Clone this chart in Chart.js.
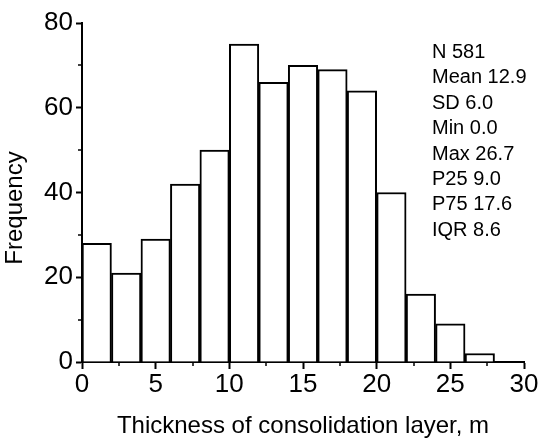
<!DOCTYPE html>
<html>
<head>
<meta charset="utf-8">
<script src="https://cdn.jsdelivr.net/npm/chart.js@4/dist/chart.umd.min.js"></script>
<style>
  html, body { margin: 0; padding: 0; background: #fff; }
  #wrap { width: 539px; height: 441px; position: relative; }
</style>
</head>
<body>
<div id="wrap"><canvas id="histChart"></canvas></div>
<script>
// histogram bins (2 m wide) and counts
const binStarts = [0, 2, 4, 6, 8, 10, 12, 14, 16, 18, 20, 22, 24, 26];
const binWidth = 2;
const counts = [28, 21, 29, 42, 50, 75, 66, 70, 69, 64, 40, 16, 9, 2];
const xMinorTicks = [2.5, 7.5, 12.5, 17.5, 22.5, 27.5];
const yMinorTicks = [10, 30, 50, 70];
const statsLines = ['N 581', 'Mean 12.9', 'SD 6.0', 'Min 0.0', 'Max 26.7', 'P25 9.0', 'P75 17.6', 'IQR 8.6'];
const yTitle = 'Frequency';

const FONT = "Arial, 'Liberation Sans', sans-serif";

const extras = {
    id: 'extras',
    afterDraw(chart) {
        const c = chart.ctx;
        const xs = chart.scales.x, ys = chart.scales.y;
        c.save();
        c.strokeStyle = '#000';
        c.lineWidth = 1.5;
        xMinorTicks.forEach(v => {
            const px = Math.round(xs.getPixelForValue(v));
            c.beginPath();
            c.moveTo(px, ys.bottom);
            c.lineTo(px, ys.bottom + 4);
            c.stroke();
        });
        yMinorTicks.forEach(v => {
            const py = Math.round(ys.getPixelForValue(v));
            c.beginPath();
            c.moveTo(xs.left, py);
            c.lineTo(xs.left - 4, py);
            c.stroke();
        });
        c.fillStyle = '#000';
        // y axis title, sits a bit below the plot centre like the original
        c.save();
        c.translate(15, 208);
        c.rotate(-Math.PI / 2);
        c.font = '24px ' + FONT;
        c.textAlign = 'center';
        c.textBaseline = 'middle';
        c.fillText(yTitle, 0, 0);
        c.restore();
        // stats block
        c.font = '20px ' + FONT;
        c.textBaseline = 'alphabetic';
        c.textAlign = 'left';
        statsLines.forEach((t, i) => {
            c.fillText(t, 432, 58 + i * 25.4);
        });
        c.restore();
    }
};

const ctx = document.getElementById('histChart').getContext('2d');
new Chart(ctx, {
    type: 'bar',
    data: {
        datasets: [{
            data: binStarts.map((s, i) => ({ x: s + binWidth / 2, y: counts[i] })),
            backgroundColor: '#fff',
            borderColor: '#000',
            borderWidth: 2,
            borderSkipped: 'bottom',
            barPercentage: 1,
            categoryPercentage: 1
        }]
    },
    options: {
        responsive: true,
        maintainAspectRatio: false,
        animation: false,
        layout: { padding: { top: 23, right: 15, left: 0, bottom: 0 } },
        plugins: { legend: { display: false }, tooltip: { enabled: false } },
        scales: {
            x: {
                type: 'linear',
                offset: false,
                min: 0,
                max: 30,
                afterFit: s => { s.height = 79; },
                ticks: { stepSize: 5, color: '#000', font: { size: 26, family: FONT }, padding: 0, maxRotation: 0 },
                grid: { drawOnChartArea: false, offset: false, tickLength: 7, tickColor: '#000', tickWidth: 2 },
                border: { color: '#000', width: 2 },
                title: { display: true, text: 'Thickness of consolidation layer, m', color: '#000', font: { size: 24, family: FONT }, padding: { top: 10, bottom: 0 } }
            },
            y: {
                min: 0,
                max: 80,
                afterFit: s => { s.width = 82; },
                ticks: { stepSize: 20, color: '#000', font: { size: 26, family: FONT }, padding: 3 },
                grid: { drawOnChartArea: false, tickLength: 6, tickColor: '#000', tickWidth: 2 },
                border: { color: '#000', width: 2 },
                title: { display: false }
            }
        }
    },
    plugins: [extras]
});
</script>
</body>
</html>
